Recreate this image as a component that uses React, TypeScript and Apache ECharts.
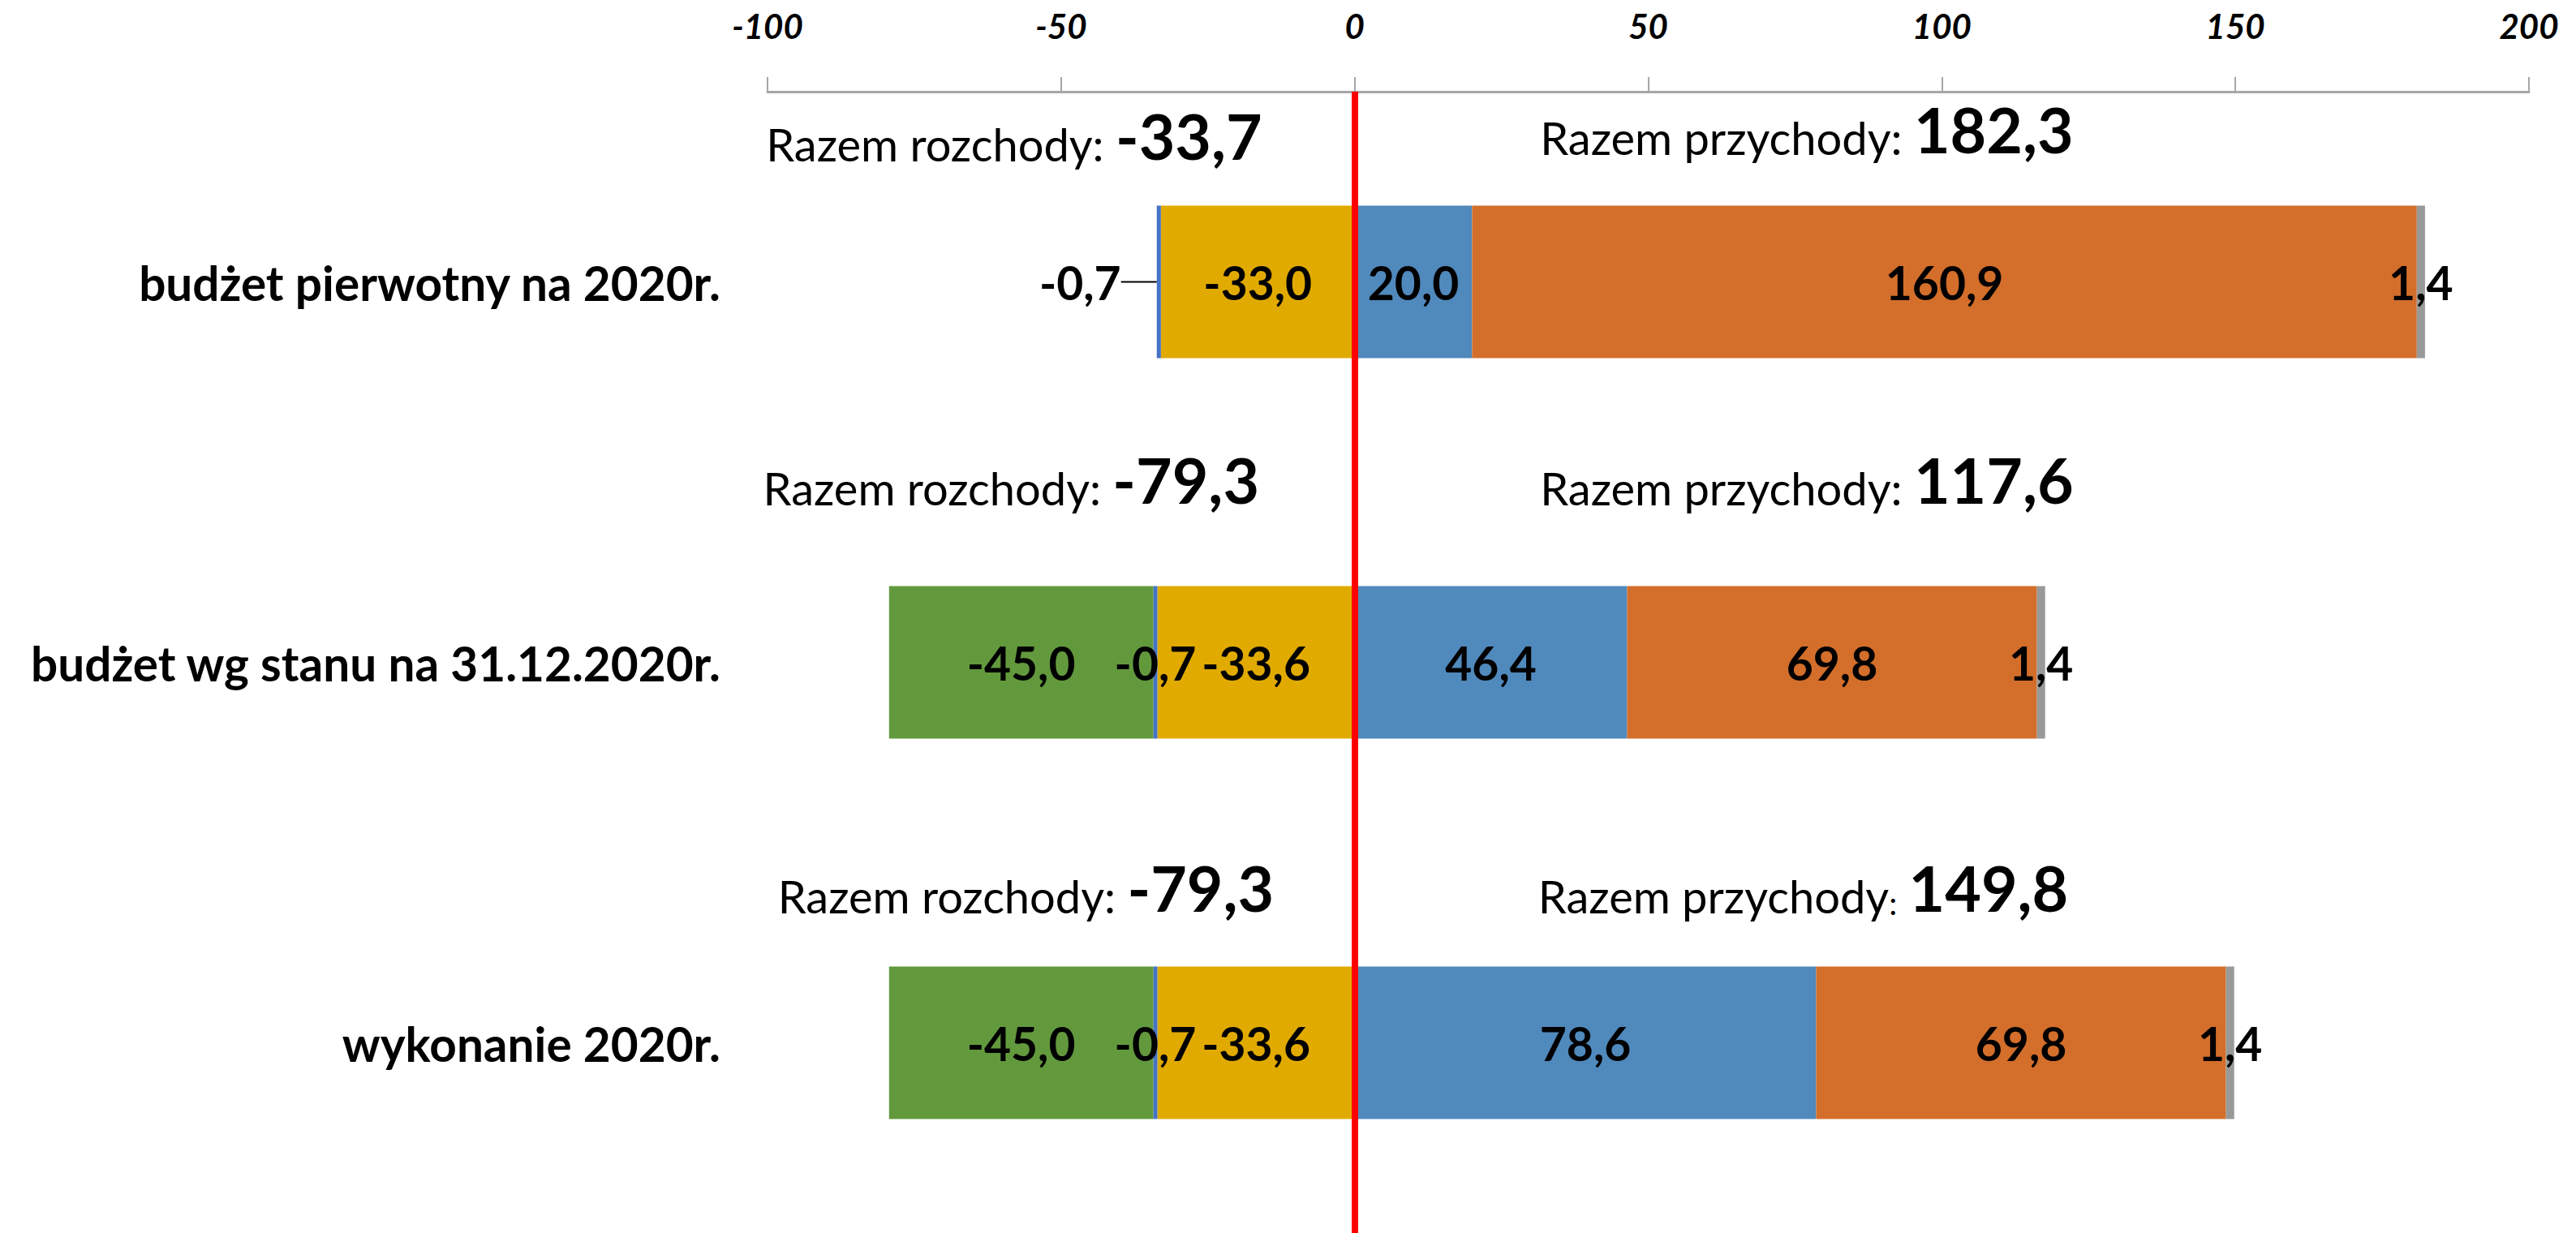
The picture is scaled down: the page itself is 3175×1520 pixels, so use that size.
import React, { useEffect, useRef } from "react";
import * as echarts from "echarts";

// ---- data ----
const categories = [
  "budżet pierwotny na 2020r.",
  "budżet wg stanu na 31.12.2020r.",
  "wykonanie 2020r.",
];
const expenseYellow = [-33.0, -33.6, -33.6];
const expenseThin = [-0.7, -0.7, -0.7];
const expenseGreen: (number | null)[] = [null, -45.0, -45.0];
const incomeBlue = [20.0, 46.4, 78.6];
const incomeOrange = [160.9, 69.8, 69.8];
const incomeGray = [1.4, 1.4, 1.4];
const totalExpenses = [-33.7, -79.3, -79.3];
const totalIncome = [182.3, 117.6, 149.8];
const axisMin = -100;
const axisMax = 200;
const axisStep = 50;

// ---- layout constants (not data) ----
const expenseLabelX = [-58, -58.5, -56];
const incomeLabelX = [77, 77, 76.4];
const expenseLabelDy = [-142, -187, -153];
const incomeLabelDy = [-150, -187, -153];

const FONT = "Lato, 'Open Sans', sans-serif";
const fmt = (v: number) => v.toFixed(1).replace(".", ",");

const dataLabel = {
  show: true,
  position: "inside",
  color: "#000",
  fontFamily: FONT,
  fontWeight: "bold",
  fontSize: 57,
  formatter: (p: any) => (p.value == null ? "" : fmt(p.value)),
};

export default function App() {
  const ref = useRef<HTMLDivElement>(null);
  useEffect(() => {
    document.body.style.margin = "0";
    const chart = echarts.init(ref.current!, null, { renderer: "svg" });

    const barBase = {
      type: "bar",
      stack: "total",
      barWidth: 188,
      label: dataLabel,
    };

    const rich = {
      a: { fontFamily: FONT, fontSize: 56, color: "#000", verticalAlign: "bottom", lineHeight: 88 },
      b: { fontFamily: FONT, fontSize: 77, fontWeight: "bold", color: "#000", verticalAlign: "bottom", lineHeight: 88 },
      c: { fontFamily: FONT, fontSize: 40, color: "#000", verticalAlign: "bottom", lineHeight: 88 },
    };

    const totalsData: any[] = [];
    categories.forEach((c, i) => {
      totalsData.push({
        value: [expenseLabelX[i], c],
        label: {
          offset: [0, expenseLabelDy[i]],
          formatter: `{a|Razem rozchody: }{b|${fmt(totalExpenses[i])}}`,
        },
      });
      totalsData.push({
        value: [incomeLabelX[i], c],
        label: {
          offset: [0, incomeLabelDy[i]],
          formatter:
            i === 2
              ? `{a|Razem przychody}{c|:}{a| }{b|${fmt(totalIncome[i])}}`
              : `{a|Razem przychody: }{b|${fmt(totalIncome[i])}}`,
        },
      });
    });

    const option: any = {
      animation: false,
      backgroundColor: "#fff",
      grid: { left: 946, right: 58, top: 113, bottom: 0, containLabel: false },
      xAxis: {
        type: "value",
        position: "top",
        min: axisMin,
        max: axisMax,
        interval: axisStep,
        splitLine: { show: false },
        axisLine: { show: true, onZero: false, lineStyle: { color: "#A6A6A6", width: 3 } },
        axisTick: { show: true, inside: false, length: 18, lineStyle: { color: "#A6A6A6", width: 2 } },
        axisLabel: {
          color: "#000",
          fontFamily: FONT,
          fontStyle: "italic",
          fontWeight: "bold",
          fontSize: 42,
          margin: 60,
        },
      },
      yAxis: {
        type: "category",
        inverse: true,
        data: categories,
        axisLine: { show: false, onZero: false },
        axisTick: { show: false },
        axisLabel: {
          color: "#000",
          fontFamily: FONT,
          fontWeight: "bold",
          fontSize: 58.5,
          margin: 58,
        },
      },
      series: [
        {
          ...barBase,
          name: "rozchody A",
          data: expenseYellow,
          itemStyle: { color: "#E1AA00" },
          markLine: {
            silent: true,
            symbol: ["none", "none"],
            z: 10,
            label: { show: false },
            lineStyle: { color: "#FF0000", width: 8, type: "solid" },
            data: [{ xAxis: 0 }],
          },
        },
        {
          ...barBase,
          name: "rozchody B",
          data: expenseThin.map((v, i) =>
            i === 0
              ? { value: v, labelLine: { show: true, lineStyle: { color: "#000", width: 2 } } }
              : v
          ),
          itemStyle: { color: "#4472C4" },
          labelLayout: (p: any) => (p.dataIndex === 0 ? { dx: -97 } : {}),
        },
        {
          ...barBase,
          name: "rozchody C",
          data: expenseGreen.map((v) => (v == null ? "-" : v)),
          itemStyle: { color: "#63993D" },
        },
        {
          ...barBase,
          name: "przychody A",
          data: incomeBlue,
          itemStyle: { color: "#5089BC" },
        },
        {
          ...barBase,
          name: "przychody B",
          data: incomeOrange,
          itemStyle: { color: "#D36E2B" },
        },
        {
          ...barBase,
          name: "przychody C",
          data: incomeGray,
          itemStyle: { color: "#999999" },
        },
        {
          type: "scatter",
          name: "razem",
          symbolSize: 0,
          silent: true,
          z: 20,
          itemStyle: { opacity: 1 },
          data: totalsData,
          label: {
            show: true,
            position: "inside",
            align: "center",
            verticalAlign: "bottom",
            color: "#000",
            rich,
          },
        },
      ],
    };
    chart.setOption(option);
    return () => chart.dispose();
  }, []);
  return (
    <div
      ref={ref}
      style={{ position: "fixed", left: 0, top: 0, width: 3175, height: 1520, background: "#fff" }}
    />
  );
}
